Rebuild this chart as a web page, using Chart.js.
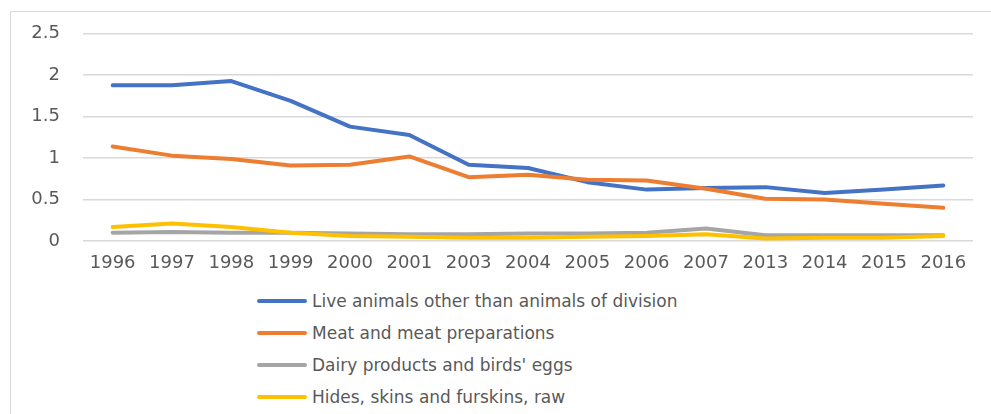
<!DOCTYPE html>
<html>
<head>
<meta charset="utf-8">
<script src="https://cdn.jsdelivr.net/npm/chart.js@4"></script>
<style>
  html, body { margin: 0; padding: 0; background: #fff; width: 991px; height: 414px; overflow: hidden; }
  #frame { position: absolute; left: 10px; top: 11px; width: 1000px; height: 420px; border: 1px solid #d9d9d9; box-sizing: border-box; }
  #c { position: absolute; left: 0; top: 0; }
  #legend { position: absolute; left: 257px; top: 285px; font-family: "DejaVu Sans", sans-serif; font-size: 17px; color: #595959; }
  .row { height: 32px; display: flex; align-items: center; }
  .sw { width: 50px; height: 4px; border-radius: 2px; margin-right: 5px; }
</style>
</head>
<body>
<div id="frame"></div>
<canvas id="c" width="991" height="280"></canvas>
<div id="legend"></div>
<script>
const categories = ["1996","1997","1998","1999","2000","2001","2003","2004","2005","2006","2007","2013","2014","2015","2016"];
const seriesNames = [
  "Live animals other than animals of division",
  "Meat and meat preparations",
  "Dairy products and birds' eggs",
  "Hides, skins and furskins, raw"
];
const liveAnimals = [1.88,1.88,1.93,1.69,1.38,1.28,0.92,0.88,0.71,0.62,0.64,0.65,0.58,0.62,0.67];
const meat        = [1.14,1.03,0.99,0.91,0.92,1.02,0.77,0.80,0.74,0.73,0.63,0.51,0.50,0.45,0.40];
const dairy       = [0.10,0.11,0.10,0.10,0.09,0.08,0.08,0.09,0.09,0.10,0.15,0.07,0.07,0.07,0.07];
const hides       = [0.17,0.21,0.17,0.10,0.06,0.05,0.04,0.04,0.05,0.06,0.08,0.03,0.04,0.04,0.06];
const colors = ["#4472C4","#ED7D31","#A5A5A5","#FFC000"];
const yTicks = { min: 0, max: 2.5, step: 0.5 };

const values = [liveAnimals, meat, dairy, hides];
const axisFont = { family: "DejaVu Sans", size: 18 };

const chart = new Chart(document.getElementById('c'), {
  type: 'line',
  data: {
    labels: categories,
    datasets: values.map((v, i) => ({
      label: seriesNames[i],
      data: v,
      borderColor: colors[i],
      backgroundColor: colors[i],
      borderWidth: 4,
      pointRadius: 0,
      tension: 0,
      borderCapStyle: 'round',
      borderJoinStyle: 'round'
    })).reverse()
  },
  options: {
    responsive: false,
    animation: false,
    layout: { padding: { left: 0, right: 18, top: 32, bottom: 0 } },
    plugins: { legend: { display: false }, tooltip: { enabled: false } },
    scales: {
      x: {
        offset: true,
        grid: { display: false, drawTicks: false },
        border: { display: false },
        ticks: { font: axisFont, color: '#595959', padding: 12, maxRotation: 0, autoSkip: false },
        afterFit: s => { s.height = 39; }
      },
      y: {
        min: yTicks.min, max: yTicks.max,
        grid: { color: '#d9d9d9', lineWidth: 1.5, drawTicks: false },
        border: { display: false },
        ticks: { stepSize: yTicks.step, font: axisFont, color: '#595959', padding: 23,
                 callback: v => String(Number(v.toFixed(2))) },
        afterFit: s => { s.width = 83; }
      }
    }
  }
});

const leg = document.getElementById('legend');
seriesNames.forEach((name, i) => {
  const row = document.createElement('div');
  row.className = 'row';
  const sw = document.createElement('div');
  sw.className = 'sw';
  sw.style.background = colors[i];
  const t = document.createElement('span');
  t.textContent = name;
  row.appendChild(sw); row.appendChild(t);
  leg.appendChild(row);
});
</script>
</body>
</html>
